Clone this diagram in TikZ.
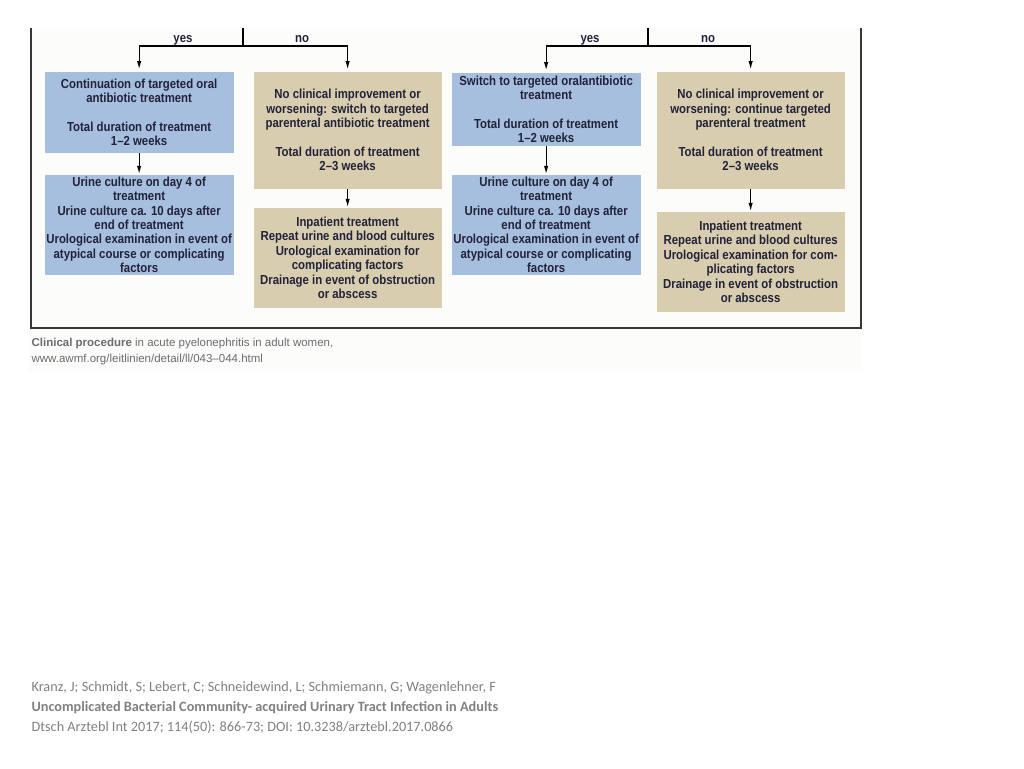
\documentclass[tikz,border=0pt]{standalone}
\usepackage{fontspec}
\setmainfont{Liberation Sans}
\newfontfamily\flowfont[FakeStretch=0.87]{Liberation Sans}
\newfontfamily\citefont{Carlito}
\usepackage{tikz}
\usetikzlibrary{arrows.meta,positioning}
\definecolor{oralblue}{RGB}{167,191,222}
\definecolor{partan}{RGB}{216,205,174}
\definecolor{inkblue}{RGB}{33,34,58}
\definecolor{framegray}{RGB}{55,55,55}
\definecolor{capgray}{RGB}{108,108,112}
\definecolor{citegray}{RGB}{128,128,128}
\definecolor{paper}{RGB}{252,252,250}
\tikzstyle{oral} = [rectangle,fill=oralblue,text=inkblue,minimum width=189pt,inner sep=0pt,align=center,font=\flowfont\bfseries\fontsize{13.1}{14.4}\selectfont]
\tikzstyle{paren} = [oral,fill=partan,minimum width=188pt]
\tikzstyle{answer} = [text=inkblue,inner sep=0pt,anchor=base,font=\flowfont\bfseries\fontsize{13.1}{14.4}\selectfont]
\tikzstyle{capline} = [anchor=base west,inner sep=0pt,text=capgray,font=\fontsize{11.5}{16.5}\selectfont]
\tikzstyle{citeline} = [anchor=base west,inner sep=0pt,text=citegray,font=\citefont\fontsize{14.25}{20.5}\selectfont]

\begin{document}
\begin{tikzpicture}[x=1pt,y=-1pt,>={Latex[length=8.5pt,width=4.5pt]},line width=1.25pt]
	\useasboundingbox (0,0) rectangle (1024,768);
	\fill[paper] (29,28) rectangle (863,372);
	\draw[framegray,line width=1.5pt] (31,28) -- (31,328) -- (861,328) -- (861,28);
	\begin{scope}[node distance=21pt]
		\node[oral,minimum height=81pt,anchor=north west] (contoral) at (44,71) {Continuation of targeted oral\\antibiotic treatment\\[14.4pt]Total duration of treatment\\1–2 weeks};
		\node[oral,minimum height=100pt] (urineone) [below=of contoral] {Urine culture on day 4 of\\treatment\\Urine culture ca. 10 days after\\end of treatment\\Urological examination in event of\\atypical course or complicating\\factors}
			edge[<-] (contoral);
		\node[paren,minimum height=117pt,anchor=north west] (switchpar) at (253,71) {No clinical improvement or\\worsening: switch to targeted\\parenteral antibiotic treatment\\[14.4pt]Total duration of treatment\\2–3 weeks};
		\node[paren,minimum height=100pt,node distance=18pt] (inpatone) [below=of switchpar] {Inpatient treatment\\Repeat urine and blood cultures\\Urological examination for\\complicating factors\\Drainage in event of obstruction\\or abscess}
			edge[<-] (switchpar);
		\coordinate (lsplit) at (243,28);
		\coordinate (ljoin) at (243,46);
		\draw (lsplit) -- (ljoin);
		\draw[->] (ljoin) -| ([yshift=1.5pt]contoral.north);
		\draw[->] (ljoin) -| ([yshift=1.5pt]switchpar.north);
		\node[answer] (lyes) at (183,42) {yes};
		\node[answer] (lno) at (302,42) {no};

		\node[oral,minimum height=73pt,anchor=north west] (switchoral) at (451,72) {Switch to targeted oralantibiotic\\treatment\\[14.4pt]Total duration of treatment\\1–2 weeks};
		\node[oral,minimum height=100pt,node distance=28pt] (urinetwo) [below=of switchoral] {Urine culture on day 4 of\\treatment\\Urine culture ca. 10 days after\\end of treatment\\Urological examination in event of\\atypical course or complicating\\factors}
			edge[<-] (switchoral);
		\node[paren,minimum height=117pt,anchor=north west] (contpar) at (656,71) {No clinical improvement or\\worsening: continue targeted\\parenteral treatment\\[14.4pt]Total duration of treatment\\2–3 weeks};
		\node[paren,minimum height=100pt,node distance=22pt] (inpattwo) [below=of contpar] {Inpatient treatment\\Repeat urine and blood cultures\\Urological examination for com-\\plicating factors\\Drainage in event of obstruction\\or abscess}
			edge[<-] (contpar);
		\coordinate (rsplit) at (648,28);
		\coordinate (rjoin) at (648,46);
		\draw (rsplit) -- (rjoin);
		\draw[->] (rjoin) -| ([yshift=1.5pt]switchoral.north);
		\draw[->] (rjoin) -| ([yshift=1.5pt]contpar.north);
		\node[answer] (ryes) at (590,42) {yes};
		\node[answer] (rno) at (708,42) {no};
	\end{scope}
	\node[capline] (capone) at (31,346) {\textbf{Clinical procedure} in acute pyelonephritis in adult women,};
	\node[capline] (captwo) at (31,362.5) {www.awmf.org/leitlinien/detail/ll/043–044.html};
	\node[citeline] (citeauth) at (31,691) {Kranz, J; Schmidt, S; Lebert, C; Schneidewind, L; Schmiemann, G; Wagenlehner, F};
	\node[citeline,font=\citefont\bfseries\fontsize{14.25}{20.5}\selectfont] (citetitle) at (31,711) {Uncomplicated Bacterial Community- acquired Urinary Tract Infection in Adults};
	\node[citeline] (citejour) at (31,731.5) {Dtsch Arztebl Int 2017; 114(50): 866-73; DOI: 10.3238/arztebl.2017.0866};
\end{tikzpicture}
\end{document}
